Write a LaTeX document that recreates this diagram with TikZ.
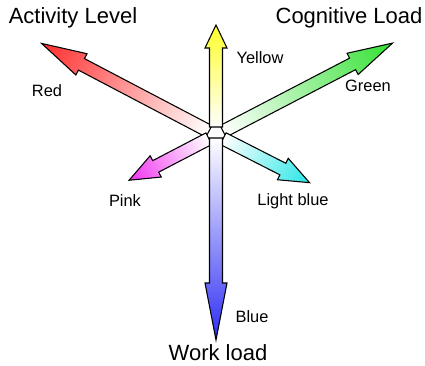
\documentclass[tikz,border=0pt]{standalone}
\usepackage{fontspec}
\setmainfont{Liberation Sans}
\definecolor{cred}{RGB}{255,45,45}
\definecolor{cgreen}{RGB}{50,225,50}
\definecolor{cyellow}{RGB}{255,255,40}
\definecolor{cblue}{RGB}{45,45,245}
\definecolor{cpink}{RGB}{240,50,240}
\definecolor{ccyan}{RGB}{40,230,230}
\tikzset{
  arrowline/.style={draw=black, line width=0.8pt, line join=miter},
  title/.style={font=\fontsize{16.5}{19}\selectfont, inner sep=0pt},
  lbl/.style={font=\fontsize{12.3}{14}\selectfont, inner sep=0pt}
}
% angle, tail, length, head length, head half-width, shaft half-width, colour
\newcommand\fatarrow[7]{%
  \begin{scope}[transform canvas={shift={(c)},rotate=#1}, x=0.75pt, y=0.75pt]
    \shadedraw[arrowline, left color=white, right color=#7]
      (#2,-#6) -- ({#3-#4},-#6) -- ({#3-#4},-#5) -- (#3,0) -- ({#3-#4},#5)
      -- ({#3-#4},#6) -- (#2,#6) -- cycle;
  \end{scope}}
\begin{document}
\begin{tikzpicture}[x=0.75pt,y=-0.75pt]
\useasboundingbox (0,0) rectangle (425,366);
\coordinate (c) at (216,135);
\fatarrow{152.3}{8}{197}{45}{12}{6.5}{cred}
\fatarrow{27.5}{8}{199}{45}{12}{6.5}{cgreen}
\fatarrow{207.5}{8}{98}{30}{12}{6.5}{cpink}
\fatarrow{-27}{8}{105}{30}{12}{6.5}{ccyan}
\fatarrow{90}{8}{110}{23}{11}{6.5}{cyellow}
\fatarrow{-90}{3}{205}{57}{11}{6.5}{cblue}
\node[title] (act) at (73,18) {Activity Level};
\node[title] (cog) at (349,18) {Cognitive Load};
\node[title] (work) at (218,353) {Work load};
\node[lbl] (lred) at (47,91) {Red};
\node[lbl] (lyellow) at (260,58) {Yellow};
\node[lbl] (lgreen) at (368,86) {Green};
\node[lbl] (lpink) at (125,201) {Pink};
\node[lbl] (llblue) at (293,201) {Light blue};
\node[lbl] (lblue) at (252,317) {Blue};
\end{tikzpicture}
\end{document}
